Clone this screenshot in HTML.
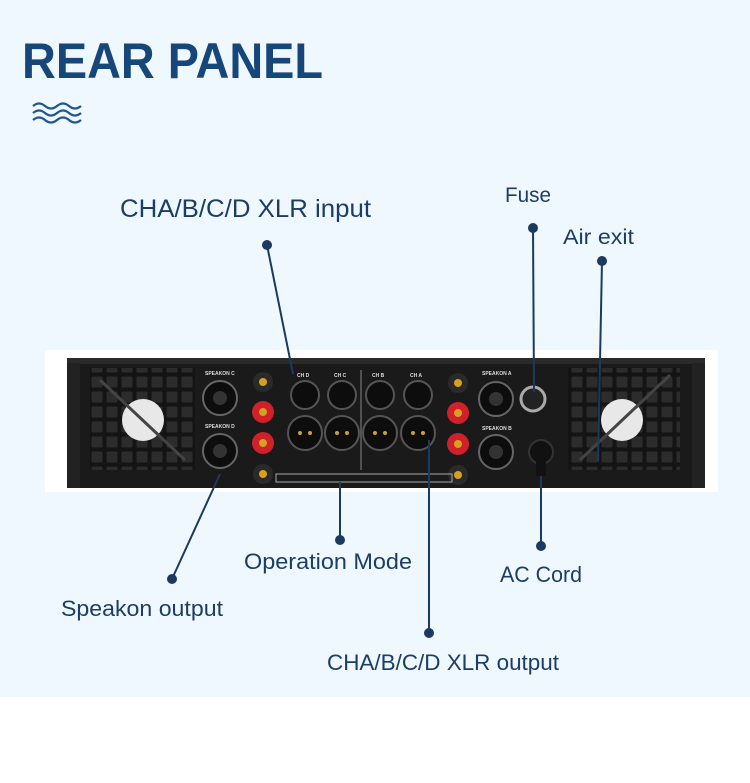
<!DOCTYPE html>
<html><head><meta charset="utf-8"><style>
html,body{margin:0;padding:0;width:750px;height:783px;overflow:hidden;background:#fff}
</style></head><body>
<svg width="750" height="783" viewBox="0 0 750 783" xmlns="http://www.w3.org/2000/svg" font-family="Liberation Sans, sans-serif">
<defs>
<pattern id="grid" width="15" height="15" patternUnits="userSpaceOnUse">
<rect width="15" height="15" fill="#141414"/><rect x="1.5" y="1.5" width="11" height="11" rx="1.5" fill="#2c2c2c"/>
</pattern>
</defs>
<rect x="0" y="0" width="750" height="697" fill="#eef8fe"/>
<text x="22" y="78" font-size="50" font-weight="bold" fill="#17477a" textLength="301" lengthAdjust="spacingAndGlyphs">REAR PANEL</text>
<g fill="none" stroke="#1f5590" stroke-width="2.2">
<path d="M33 106 q6 -5 12 0 t12 0 t12 0 t12 0"/>
<path d="M33 113 q6 -5 12 0 t12 0 t12 0 t12 0"/>
<path d="M33 120 q6 -5 12 0 t12 0 t12 0 t12 0"/>
</g>
<rect x="45" y="350" width="673" height="142" fill="#ffffff"/>
<rect x="67" y="360" width="638" height="128" fill="#1a1a1a"/>
<rect x="67" y="358" width="638" height="6" fill="#2a2a2a"/>
<rect x="67" y="363" width="13" height="125" fill="#222"/>
<rect x="692" y="363" width="13" height="125" fill="#222"/>
<rect x="90" y="368" width="105" height="102" fill="url(#grid)"/>
<circle cx="143" cy="420" r="21" fill="#e8e8e8"/>
<rect x="568" y="368" width="112" height="102" fill="url(#grid)"/>
<circle cx="622" cy="420" r="21" fill="#e8e8e8"/>
<line x1="100" y1="380" x2="185" y2="460" stroke="#444" stroke-width="3"/>
<line x1="580" y1="460" x2="670" y2="375" stroke="#444" stroke-width="3"/>
<g fill="#0d0d0d" stroke="#666" stroke-width="2">
<circle cx="220" cy="398" r="17"/><circle cx="220" cy="451" r="17"/>
<circle cx="496" cy="399" r="17"/><circle cx="496" cy="452" r="17"/>
</g>
<g fill="#333"><circle cx="220" cy="398" r="7"/><circle cx="220" cy="451" r="7"/><circle cx="496" cy="399" r="7"/><circle cx="496" cy="452" r="7"/></g>
<g>
<circle cx="263" cy="382" r="10" fill="#2a2a2a"/><circle cx="263" cy="382" r="4" fill="#d8a020"/>
<circle cx="263" cy="412" r="11" fill="#d0202a"/><circle cx="263" cy="412" r="4" fill="#d8a020"/>
<circle cx="263" cy="443" r="11" fill="#d0202a"/><circle cx="263" cy="443" r="4" fill="#d8a020"/>
<circle cx="263" cy="474" r="10" fill="#2a2a2a"/><circle cx="263" cy="474" r="4" fill="#d8a020"/>
<circle cx="458" cy="383" r="10" fill="#2a2a2a"/><circle cx="458" cy="383" r="4" fill="#d8a020"/>
<circle cx="458" cy="413" r="11" fill="#d0202a"/><circle cx="458" cy="413" r="4" fill="#d8a020"/>
<circle cx="458" cy="444" r="11" fill="#d0202a"/><circle cx="458" cy="444" r="4" fill="#d8a020"/>
<circle cx="458" cy="475" r="10" fill="#2a2a2a"/><circle cx="458" cy="475" r="4" fill="#d8a020"/>
</g>
<g fill="#0d0d0d" stroke="#555" stroke-width="2">
<circle cx="305" cy="395" r="14"/><circle cx="342" cy="395" r="14"/><circle cx="380" cy="395" r="14"/><circle cx="418" cy="395" r="14"/>
<circle cx="305" cy="433" r="17"/><circle cx="342" cy="433" r="17"/><circle cx="380" cy="433" r="17"/><circle cx="418" cy="433" r="17"/>
</g>
<g fill="#c9a040"><circle cx="300" cy="433" r="2"/><circle cx="310" cy="433" r="2"/><circle cx="337" cy="433" r="2"/><circle cx="347" cy="433" r="2"/><circle cx="375" cy="433" r="2"/><circle cx="385" cy="433" r="2"/><circle cx="413" cy="433" r="2"/><circle cx="423" cy="433" r="2"/></g>
<line x1="361" y1="370" x2="361" y2="470" stroke="#888" stroke-width="1"/>
<g fill="#ddd" font-size="5" font-weight="bold"><text x="297" y="377">CH D</text><text x="334" y="377">CH C</text><text x="372" y="377">CH B</text><text x="410" y="377">CH A</text><text x="205" y="375">SPEAKON C</text><text x="205" y="428">SPEAKON D</text><text x="482" y="375">SPEAKON A</text><text x="482" y="430">SPEAKON B</text></g>
<rect x="276" y="474" width="176" height="8" fill="none" stroke="#aaa" stroke-width="1"/>
<circle cx="533" cy="399" r="12" fill="#222" stroke="#aaa" stroke-width="3"/>
<circle cx="541" cy="452" r="12" fill="#111" stroke="#333" stroke-width="2"/>
<rect x="536" y="452" width="10" height="24" fill="#111"/>
<g stroke="#1b3a60" stroke-width="2" fill="none">
<line x1="267" y1="245" x2="293" y2="374"/>
<line x1="533" y1="228" x2="534" y2="392"/>
<line x1="602" y1="261" x2="598" y2="462"/>
<line x1="172" y1="579" x2="220" y2="474"/>
<line x1="340" y1="540" x2="340" y2="482"/>
<line x1="429" y1="633" x2="429" y2="440"/>
<line x1="541" y1="546" x2="541" y2="476"/>
</g>
<g fill="#1b3a60">
<circle cx="267" cy="245" r="5"/><circle cx="533" cy="228" r="5"/><circle cx="602" cy="261" r="5"/>
<circle cx="172" cy="579" r="5"/><circle cx="340" cy="540" r="5"/><circle cx="429" cy="633" r="5"/><circle cx="541" cy="546" r="5"/>
</g>
<g fill="#1b3d66" lengthAdjust="spacingAndGlyphs">
<text x="120" y="217" font-size="25" textLength="251" lengthAdjust="spacingAndGlyphs">CHA/B/C/D XLR input</text>
<text x="505" y="202" font-size="21" textLength="46" lengthAdjust="spacingAndGlyphs">Fuse</text>
<text x="563" y="244" font-size="21" textLength="71" lengthAdjust="spacingAndGlyphs">Air exit</text>
<text x="244" y="569" font-size="22" textLength="168" lengthAdjust="spacingAndGlyphs">Operation Mode</text>
<text x="500" y="582" font-size="22" textLength="82" lengthAdjust="spacingAndGlyphs">AC Cord</text>
<text x="61" y="616" font-size="22" textLength="162" lengthAdjust="spacingAndGlyphs">Speakon output</text>
<text x="327" y="670" font-size="22" textLength="232" lengthAdjust="spacingAndGlyphs">CHA/B/C/D XLR output</text>
</g>
</svg>
</body></html>
